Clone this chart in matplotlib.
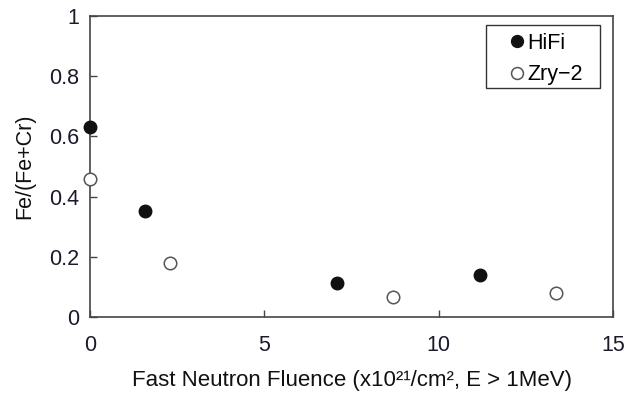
import matplotlib
matplotlib.use('Agg')
import matplotlib.pyplot as plt
from matplotlib.patches import Rectangle

plt.rcParams['font.family'] = ['Liberation Sans', 'DejaVu Sans']

# data
hifi_x = [0.0, 1.58, 7.08, 11.17]
hifi_y = [0.631, 0.352, 0.113, 0.140]
zry_x = [0.0, 2.29, 8.68, 13.35]
zry_y = [0.458, 0.179, 0.066, 0.080]

x_ticks = [0, 5, 10, 15]
y_ticks = [0, 0.2, 0.4, 0.6, 0.8, 1]
y_labels = ['0', '0.2', '0.4', '0.6', '0.8', '1']

fig = plt.figure(figsize=(6.25, 3.94), dpi=100)
ax = fig.add_axes([0.144, 0.1954, 0.837, 0.7636])

ax.plot(hifi_x, hifi_y, 'o', color='#111111', ms=9, label='HiFi', clip_on=False, zorder=3)
ax.plot(zry_x, zry_y, 'o', mfc='white', mec='#555555', mew=1.1, ms=9, label='Zry\u22122',
        clip_on=False, zorder=3)

ax.set_xlim(0, 15)
ax.set_ylim(0, 1)
ax.set_xticks(x_ticks)
ax.set_yticks(y_ticks)
ax.set_yticklabels(y_labels)
ax.tick_params(direction='in', length=5, width=1, labelsize=15.5, colors='#444444',
               labelcolor='#1a1a2a')
ax.tick_params(axis='x', pad=13)
ax.tick_params(axis='y', pad=8)
for s in ax.spines.values():
    s.set_color('#444444')
    s.set_linewidth(1.2)

ax.set_xlabel('Fast Neutron Fluence (x10\u00b2\u00b9/cm\u00b2, E > 1MeV)', fontsize=16,
              color='#111111', labelpad=10)
ax.set_ylabel('Fe/(Fe+Cr)', fontsize=15.5, color='#111111', labelpad=10)

# legend without its own frame, box drawn separately (wider side padding than legend allows)
leg = ax.legend(loc='upper left', fontsize=15.5, frameon=False,
                handletextpad=0.0, handlelength=1.0, borderpad=0, labelspacing=0.5,
                bbox_to_anchor=(0.795, 0.945), borderaxespad=0, markerscale=0.95)
ax.add_patch(Rectangle((0.757, 0.761), 0.218, 0.209, transform=ax.transAxes,
                       fill=False, edgecolor='#333333', lw=1.0, zorder=4))

fig.savefig('out.png', dpi=100)
